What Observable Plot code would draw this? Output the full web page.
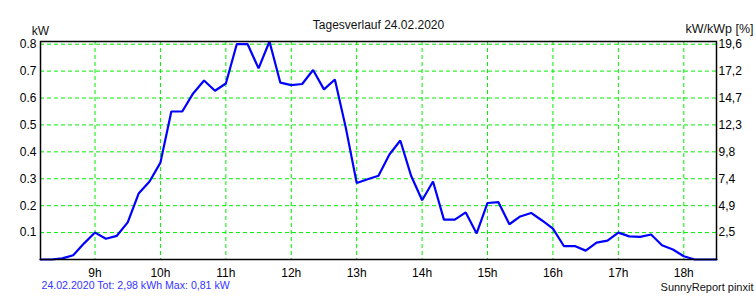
<!DOCTYPE html>
<html>
<head>
<meta charset="utf-8">
<script src="https://cdn.jsdelivr.net/npm/d3@7"></script>
<script src="https://cdn.jsdelivr.net/npm/@observablehq/plot@0.6"></script>
<style>
  body { margin: 0; background: #fff; }
  #chart { width: 756px; height: 300px; }
</style>
</head>
<body>
<div id="chart"></div>
<script>
const times = [
  "08:10","08:20","08:30","08:40","08:50","09:00","09:10","09:20","09:30","09:40","09:50",
  "10:00","10:10","10:20","10:30","10:40","10:50","11:00","11:10","11:20","11:30","11:40","11:50",
  "12:00","12:10","12:20","12:30","12:40","12:50","13:00","13:10","13:20","13:30","13:40","13:50",
  "14:00","14:10","14:20","14:30","14:40","14:50","15:00","15:10","15:20","15:30","15:40","15:50",
  "16:00","16:10","16:20","16:30","16:40","16:50","17:00","17:10","17:20","17:30","17:40","17:50",
  "18:00","18:10","18:20","18:30"
];
const powerKW = [
  0, 0, 0.004, 0.016, 0.06, 0.1, 0.077, 0.088, 0.138, 0.245, 0.29,
  0.36, 0.55, 0.55, 0.617, 0.665, 0.627, 0.654, 0.80, 0.80, 0.71, 0.81, 0.657,
  0.648, 0.652, 0.704, 0.632, 0.669, 0.49, 0.284, 0.298, 0.311, 0.39, 0.442, 0.31,
  0.22, 0.29, 0.148, 0.148, 0.175, 0.097, 0.21, 0.213, 0.131, 0.16, 0.173, 0.145,
  0.115, 0.05, 0.05, 0.033, 0.063, 0.07, 0.1, 0.086, 0.084, 0.093, 0.053, 0.037,
  0.012, 0, 0, 0
];
const hourTicks = [9, 10, 11, 12, 13, 14, 15, 16, 17, 18];
const kwTicks = [0.1, 0.2, 0.3, 0.4, 0.5, 0.6, 0.7, 0.8];
const pctLabels = ["2,5", "4,9", "7,4", "9,8", "12,3", "14,7", "17,2", "19,6"];
const titleText = "Tagesverlauf 24.02.2020";
const leftUnit = "kW";
const rightUnit = "kW/kWp [%]";
const summaryText = "24.02.2020 Tot: 2,98 kWh Max: 0,81 kW";
const creditText = "SunnyReport pinxit";

const toHours = s => { const [h, m] = s.split(":").map(Number); return h + m / 60; };
const data = times.map((t, i) => ({ t: toHours(t), v: powerKW[i] }));

const green = "#00ee00";
const chart = Plot.plot({
  width: 756,
  height: 300,
  marginTop: 41,
  marginBottom: 41,
  marginLeft: 40,
  marginRight: 40,
  style: { fontFamily: "'Liberation Sans', Arial, sans-serif", fontSize: "12px", color: "#000", background: "#fff", overflow: "visible" },
  x: { type: "linear", domain: [toHours(times[0]), toHours(times[times.length - 1])] },
  y: { domain: [0, 0.81] },
  marks: [
    Plot.gridX(hourTicks, { stroke: green, strokeOpacity: 1, strokeWidth: 1, strokeDasharray: "4,3" }),
    Plot.gridY(kwTicks, { stroke: green, strokeOpacity: 1, strokeWidth: 1, strokeDasharray: "4,3" }),
    Plot.axisX(hourTicks, { tickSize: 0, tickPadding: 9, tickFormat: d => d + "h", label: null, fill: "#000" }),
    Plot.axisY(kwTicks, { anchor: "left", tickSize: 0, tickPadding: 4, tickFormat: d => d.toFixed(1), label: null, fill: "#000" }),
    Plot.axisY(kwTicks, { anchor: "right", tickSize: 0, tickPadding: 2, tickFormat: (d, i) => pctLabels[i], label: null, fill: "#000" }),
    Plot.line(data, { x: "t", y: "v", stroke: "#0000ff", strokeWidth: 2.2, strokeLinejoin: "miter" }),
    Plot.frame({ stroke: "#000", strokeWidth: 1.5 }),
    Plot.text([titleText], { frameAnchor: "top", dy: -21, fill: "#111", fontSize: 12 }),
    Plot.text([leftUnit], { frameAnchor: "top-left", dy: -15, textAnchor: "middle", fill: "#111", fontSize: 12 }),
    Plot.text([rightUnit], { frameAnchor: "top-right", dy: -17, dx: 37, textAnchor: "end", fill: "#111", fontSize: 12.5 }),
    Plot.text([summaryText], { frameAnchor: "bottom-left", dy: 29, dx: 1, textAnchor: "start", fill: "#3535ff", fontSize: 10.6 }),
    Plot.text([creditText], { frameAnchor: "bottom-right", dy: 31, dx: 37, textAnchor: "end", fill: "#111", fontSize: 11 })
  ]
});
document.getElementById("chart").appendChild(chart);
</script>
</body>
</html>
